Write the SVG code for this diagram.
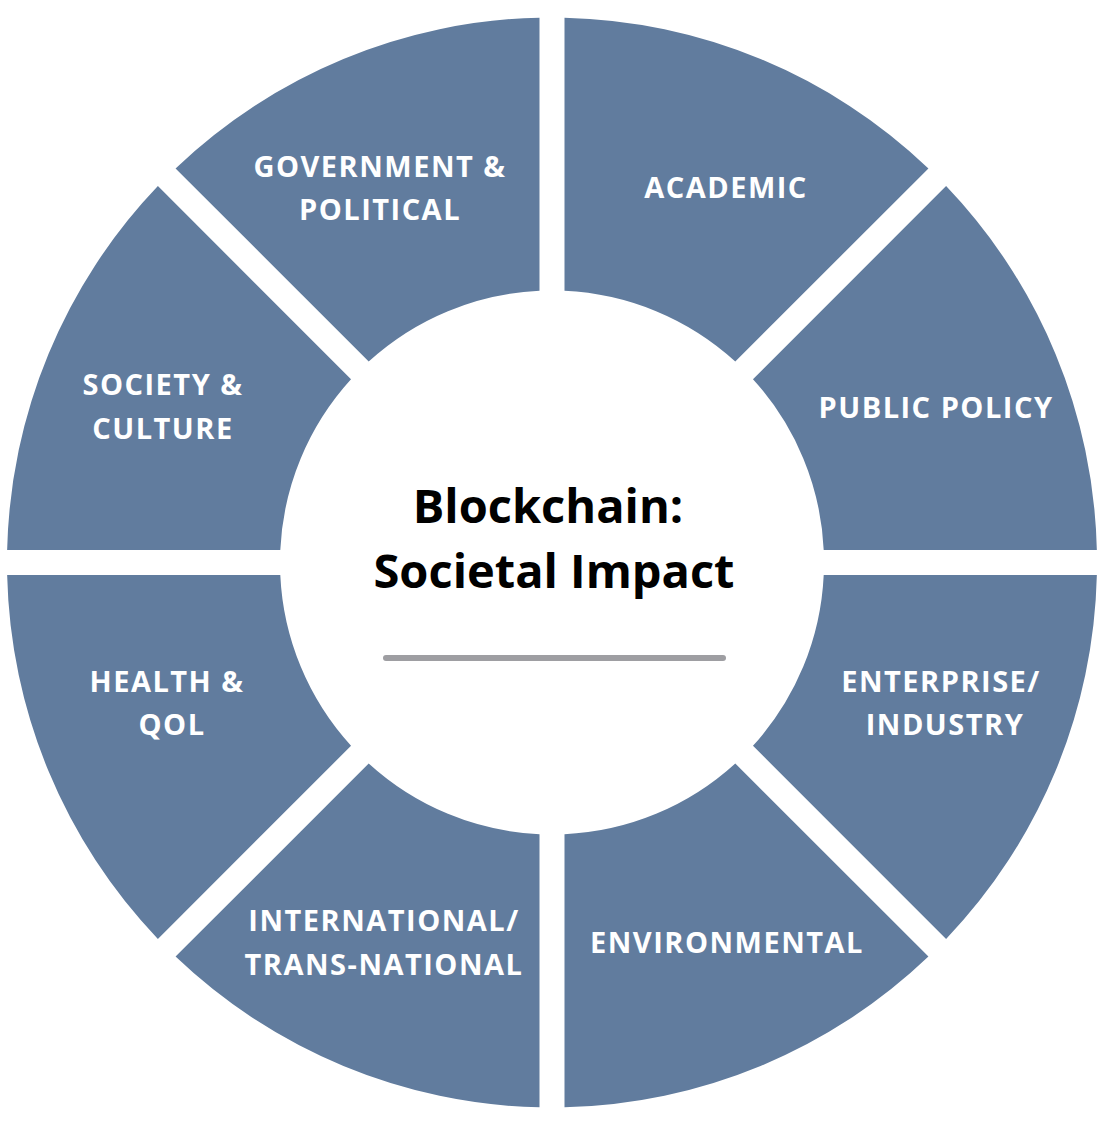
<svg xmlns="http://www.w3.org/2000/svg" xmlns:xlink="http://www.w3.org/1999/xlink" width="1105" height="1127" viewBox="0 0 1105 1127">
<style>
.seg{fill:#617c9e}
.lbl{font-family:"Open Sans","Liberation Sans",sans-serif;font-weight:700;font-size:29px;letter-spacing:1.5px;fill:#ffffff;text-anchor:middle}
.title{font-family:"Open Sans","Liberation Sans",sans-serif;font-weight:700;font-size:47px;fill:#000000;text-anchor:middle}
</style>
<defs>
<path id="wedge" d="M 564.5 17.64 A 545 545 0 0 1 928.43 168.39 L 735.29 361.53 A 272 272 0 0 0 564.5 290.79 Z"/>
</defs>
<rect width="1105" height="1127" fill="#ffffff"/>
<g id="academic"><use xlink:href="#wedge" class="seg"/><text class="lbl" x="726" y="198">ACADEMIC</text></g>
<g id="public-policy"><use xlink:href="#wedge" class="seg" transform="rotate(45 552 562.5)"/><text class="lbl" x="936" y="418">PUBLIC POLICY</text></g>
<g id="enterprise"><use xlink:href="#wedge" class="seg" transform="rotate(90 552 562.5)"/><text class="lbl" x="941" y="692">ENTERPRISE/</text><text class="lbl" x="945" y="735">INDUSTRY</text></g>
<g id="environmental"><use xlink:href="#wedge" class="seg" transform="rotate(135 552 562.5)"/><text class="lbl" x="727" y="953">ENVIRONMENTAL</text></g>
<g id="international"><use xlink:href="#wedge" class="seg" transform="rotate(180 552 562.5)"/><text class="lbl" x="384" y="931">INTERNATIONAL/</text><text class="lbl" x="384" y="975">TRANS-NATIONAL</text></g>
<g id="health"><use xlink:href="#wedge" class="seg" transform="rotate(225 552 562.5)"/><text class="lbl" x="167" y="692">HEALTH &amp;</text><text class="lbl" x="172" y="735">QOL</text></g>
<g id="society"><use xlink:href="#wedge" class="seg" transform="rotate(270 552 562.5)"/><text class="lbl" x="163" y="395">SOCIETY &amp;</text><text class="lbl" x="163" y="439">CULTURE</text></g>
<g id="government"><use xlink:href="#wedge" class="seg" transform="rotate(315 552 562.5)"/><text class="lbl" x="380" y="177">GOVERNMENT &amp;</text><text class="lbl" x="380" y="220">POLITICAL</text></g>
<g id="center"><text class="title" x="548" y="523">Blockchain:</text><text class="title" x="554" y="588">Societal Impact</text><line x1="386" y1="658" x2="723" y2="658" stroke="#9e9ea2" stroke-width="6" stroke-linecap="round"/></g>
</svg>
